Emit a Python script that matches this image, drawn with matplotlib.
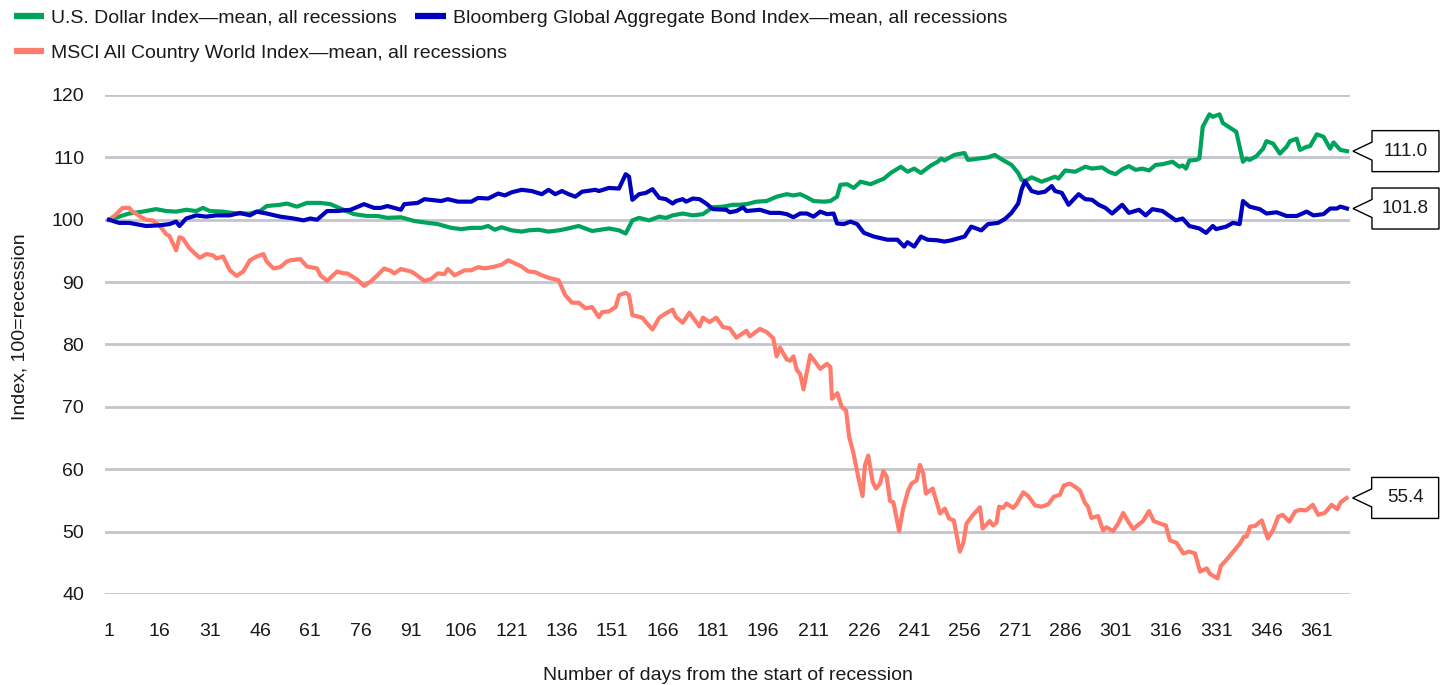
import matplotlib
matplotlib.use("Agg")
import matplotlib.pyplot as plt
from matplotlib.lines import Line2D
from matplotlib.patches import Polygon
from matplotlib.transforms import IdentityTransform

plt.rcParams['font.family'] = ['Liberation Sans', 'DejaVu Sans']

# U.S. Dollar Index - mean, all recessions
usd_days = [1, 4, 7, 11, 15, 18, 21, 24, 27, 29, 31, 35, 39, 43, 46, 48, 52, 54, 57, 60,
            64, 67, 70, 74, 78, 81, 84, 88, 92, 96, 99, 103, 106, 109, 112, 114, 116, 118, 121, 124,
            126, 129, 132, 135, 137, 141, 145, 150, 153, 155, 157, 159, 162, 165, 167, 169, 172, 175, 178, 181,
            184, 187, 189, 191, 194, 197, 200, 203, 205, 207, 209, 211, 214, 216, 218, 219, 221, 223, 225, 228,
            232, 234, 237, 239, 241, 243, 246, 248, 249, 250, 253, 256, 257, 259, 260, 263, 265, 267, 270, 272,
            273, 274, 276, 279, 281, 283, 284, 286, 289, 292, 294, 297, 299, 301, 303, 305, 307, 309, 311, 313,
            315, 318, 320, 321, 322, 323, 325, 326, 327, 329, 330, 332, 333, 335, 337, 339, 340, 341, 343, 345,
            346, 348, 350, 352, 353, 355, 356, 358, 359, 361, 363, 365, 366, 368, 370]
usd_vals = [100.0, 100.5, 101.0, 101.3, 101.7, 101.4, 101.3, 101.6, 101.4, 101.9, 101.4, 101.3, 101.0, 101.0, 101.4, 102.2, 102.4, 102.6, 102.1, 102.7,
            102.7, 102.5, 101.8, 100.9, 100.6, 100.6, 100.3, 100.4, 99.8, 99.5, 99.3, 98.7, 98.5, 98.7, 98.7, 99.0, 98.4, 98.8, 98.3, 98.1,
            98.3, 98.4, 98.1, 98.3, 98.5, 99.0, 98.2, 98.6, 98.3, 97.8, 99.9, 100.3, 99.9, 100.5, 100.3, 100.7, 101.0, 100.7, 100.9, 102.0,
            102.1, 102.4, 102.4, 102.5, 102.9, 103.0, 103.7, 104.1, 103.9, 104.1, 103.6, 103.0, 102.9, 103.0, 103.7, 105.6, 105.7, 105.1, 106.1, 105.7,
            106.6, 107.5, 108.5, 107.7, 108.2, 107.5, 108.7, 109.3, 109.8, 109.5, 110.4, 110.7, 109.6, 109.7, 109.8, 110.0, 110.4, 109.7, 108.8, 107.5,
            106.4, 106.2, 106.8, 106.1, 106.5, 106.9, 106.6, 107.9, 107.7, 108.5, 108.2, 108.4, 107.7, 107.3, 108.1, 108.6, 108.0, 108.2, 107.9, 108.8,
            108.9, 109.3, 108.5, 108.7, 108.2, 109.5, 109.6, 109.8, 114.9, 116.9, 116.5, 116.9, 115.5, 114.8, 114.1, 109.3, 109.8, 109.6, 110.2, 111.4,
            112.6, 112.2, 110.6, 111.7, 112.6, 113.0, 111.2, 111.7, 111.8, 113.7, 113.3, 111.4, 112.4, 111.2, 111.0]

# Bloomberg Global Aggregate Bond Index - mean, all recessions
bond_days = [1, 4, 7, 12, 16, 19, 21, 22, 24, 27, 30, 33, 37, 40, 43, 45, 48, 52, 56, 59,
             61, 63, 66, 69, 73, 77, 80, 82, 84, 88, 89, 93, 95, 100, 102, 105, 109, 111, 114, 117,
             119, 121, 124, 127, 130, 132, 134, 136, 138, 140, 142, 146, 147, 150, 153, 155, 156, 157, 159, 161,
             163, 165, 167, 169, 170, 172, 173, 175, 177, 179, 181, 185, 186, 188, 190, 191, 195, 198, 201, 203,
             205, 207, 209, 211, 213, 215, 217, 218, 220, 222, 224, 226, 229, 233, 236, 238, 239, 241, 243, 245,
             248, 250, 252, 254, 256, 258, 261, 263, 266, 268, 270, 272, 273, 274, 276, 278, 280, 282, 283, 285,
             287, 290, 292, 294, 296, 298, 300, 303, 305, 308, 310, 312, 315, 319, 321, 323, 326, 328, 330, 331,
             334, 336, 338, 339, 341, 344, 346, 349, 352, 355, 358, 360, 363, 365, 367, 368, 370]
bond_vals = [100.0, 99.5, 99.5, 99.0, 99.1, 99.3, 99.7, 99.0, 100.2, 100.7, 100.5, 100.7, 100.7, 101.1, 100.7, 101.3, 101.0, 100.5, 100.2, 99.9,
             100.2, 100.0, 101.4, 101.4, 101.6, 102.5, 101.9, 101.9, 102.2, 101.6, 102.5, 102.7, 103.3, 103.0, 103.3, 102.9, 102.9, 103.5, 103.4, 104.2,
             103.9, 104.4, 104.8, 104.6, 104.1, 104.8, 104.1, 104.6, 104.1, 103.7, 104.5, 104.8, 104.6, 105.1, 105.0, 107.3, 106.9, 103.2, 104.1, 104.3,
             104.9, 103.5, 103.3, 102.6, 103.0, 103.3, 102.9, 103.4, 103.3, 102.6, 101.7, 101.6, 101.2, 101.4, 102.0, 101.4, 101.6, 101.1, 101.1, 100.9,
             100.4, 101.0, 101.0, 100.5, 101.3, 100.9, 101.0, 99.4, 99.3, 99.7, 99.3, 97.9, 97.3, 96.8, 96.8, 95.7, 96.4, 95.7, 97.3, 96.8,
             96.7, 96.5, 96.7, 97.0, 97.3, 98.9, 98.3, 99.3, 99.5, 100.1, 101.1, 102.6, 104.8, 106.2, 104.6, 104.3, 104.5, 105.4, 104.6, 104.3,
             102.4, 104.1, 103.3, 103.2, 102.4, 101.9, 101.0, 102.4, 101.1, 101.6, 100.7, 101.7, 101.4, 99.9, 100.2, 99.0, 98.6, 97.9, 99.0, 98.5,
             98.9, 99.5, 99.3, 103.0, 102.1, 101.7, 101.0, 101.2, 100.6, 100.6, 101.3, 100.7, 100.9, 101.8, 101.8, 102.1, 101.8]

# MSCI All Country World Index - mean, all recessions
msci_days = [1, 3, 5, 7, 8, 9, 10, 12, 14, 16, 18, 19, 21, 22, 23, 25, 28, 30, 32, 33,
             35, 37, 39, 41, 43, 45, 47, 48, 50, 52, 54, 55, 58, 60, 63, 64, 66, 69, 71, 72,
             75, 77, 79, 81, 83, 85, 86, 88, 91, 92, 95, 97, 99, 101, 102, 104, 107, 109, 111, 113,
             116, 118, 120, 122, 124, 126, 128, 130, 132, 135, 137, 139, 141, 143, 145, 147, 148, 150, 152, 153,
             155, 156, 157, 160, 161, 163, 165, 167, 169, 170, 172, 174, 177, 178, 180, 182, 184, 186, 188, 191,
             192, 195, 197, 199, 200, 201, 203, 204, 205, 206, 207, 208, 210, 213, 215, 216, 216.5, 218.1, 219.4, 220.7,
             221.6, 222.8, 224.3, 225.6, 226.3, 227.3, 228.6, 229.6, 230.8, 231.8, 232.8, 233.8, 234.8, 236.5, 237.7, 239.2, 240.2, 241.7, 242.7, 243.7,
             244.5, 246.5, 248.7, 250.1, 251.4, 252.8, 254.6, 255.6, 256.6, 258.4, 260.6, 261.4, 263.5, 264.5, 265.5, 266.3, 267.5, 268.5, 270.5, 271.5,
             273.5, 275.0, 277.0, 279.0, 281.0, 282.6, 284.4, 285.6, 287.4, 288.9, 290.4, 291.9, 292.8, 293.8, 295.8, 297.3, 298.3, 300.3, 301.8, 303.3,
             304.8, 306.3, 307.8, 309.2, 311.0, 312.4, 314.2, 316.0, 317.2, 319.2, 321.2, 323.0, 324.7, 326.2, 328.2, 329.2, 331.4, 332.4, 334.1, 336.1,
             338.1, 339.3, 340.1, 341.1, 342.6, 344.6, 346.4, 348.0, 349.5, 350.8, 352.8, 354.5, 356.0, 357.8, 359.8, 361.4, 363.4, 365.4, 367.1, 368.1, 369.9]
msci_vals = [100.0, 100.8, 101.9, 101.9, 101.3, 101.0, 100.6, 100.0, 99.9, 99.1, 97.7, 97.4, 95.1, 97.2, 97.0, 95.4, 93.9, 94.5, 94.3, 93.8,
             94.1, 91.9, 91.0, 91.7, 93.5, 94.1, 94.5, 93.3, 92.2, 92.4, 93.3, 93.5, 93.7, 92.5, 92.2, 91.1, 90.2, 91.7, 91.4, 91.4,
             90.4, 89.4, 90.1, 91.1, 92.2, 91.8, 91.4, 92.1, 91.7, 91.4, 90.2, 90.5, 91.4, 91.3, 92.1, 91.1, 91.9, 91.9, 92.4, 92.2,
             92.5, 92.8, 93.5, 93.0, 92.5, 91.7, 91.6, 91.1, 90.7, 90.3, 87.9, 86.7, 86.7, 85.8, 86.0, 84.4, 85.2, 85.3, 86.0, 87.9,
             88.3, 87.9, 84.7, 84.3, 83.6, 82.4, 84.3, 85.0, 85.6, 84.4, 83.5, 85.1, 82.9, 84.3, 83.6, 84.3, 82.8, 82.6, 81.1, 82.2,
             81.3, 82.5, 82.0, 81.0, 78.1, 79.5, 77.6, 77.4, 78.1, 75.9, 75.3, 72.8, 78.3, 76.1, 76.9, 76.4, 71.3, 72.2, 70.0, 69.4,
             65.2, 62.8, 58.8, 55.7, 60.6, 62.2, 58.0, 56.9, 57.7, 59.7, 58.8, 54.9, 54.7, 50.1, 53.7, 56.6, 57.7, 58.2, 60.7, 59.3,
             56.1, 56.9, 52.9, 53.7, 52.1, 51.8, 46.8, 48.1, 51.3, 52.6, 53.9, 50.5, 51.7, 51.0, 51.4, 54.0, 53.8, 54.5, 53.8, 54.4,
             56.3, 55.7, 54.2, 54.0, 54.4, 55.6, 55.9, 57.4, 57.7, 57.2, 56.6, 54.6, 54.0, 52.2, 52.5, 50.2, 50.7, 50.1, 51.3, 53.0,
             51.6, 50.4, 51.1, 51.7, 53.3, 51.7, 51.3, 51.0, 48.6, 48.2, 46.5, 46.8, 46.5, 43.6, 44.1, 43.2, 42.5, 44.5, 45.5, 46.8,
             48.1, 49.2, 49.2, 50.8, 50.9, 51.8, 48.9, 50.3, 52.4, 52.7, 51.6, 53.2, 53.5, 53.4, 54.3, 52.7, 53.0, 54.3, 53.6, 54.7, 55.4]

x_ticks = list(range(1, 362, 15))
y_ticks = list(range(40, 121, 10))

green = '#00A35C'
blue = '#0000BE'
salmon = '#FF7B6B'

W, H = 1451, 685
fig = plt.figure(figsize=(W / 100, H / 100), dpi=100)
ax = fig.add_axes([105 / W, 91 / H, 1245 / W, 499 / H])

ax.plot(usd_days, usd_vals, color=green, lw=3, zorder=3)
ax.plot(bond_days, bond_vals, color=blue, lw=3, zorder=4)
ax.plot(msci_days, msci_vals, color=salmon, lw=3, zorder=3)

ax.set_xlim(-0.2, 370.9)
ax.set_ylim(40, 120)
ax.set_xticks(x_ticks)
ax.set_yticks(y_ticks)
ax.yaxis.grid(True, color='#c4c4cc', lw=2)
ax.set_axisbelow(True)
for s in ax.spines.values():
    s.set_visible(False)
ax.tick_params(axis='both', length=0, labelsize=14, colors='#1a1a1a')
ax.tick_params(axis='x', pad=21)
ax.tick_params(axis='y', pad=15)

fig.text(728 / W, 1 - 676 / H, 'Number of days from the start of recession',
         ha='center', va='center', fontsize=14, color='#1a1a1a')
fig.text(20 / W, 1 - 327 / H, 'Index, 100=recession', rotation=90,
         ha='center', va='center', fontsize=14, color='#1a1a1a')

# legend: first row has two entries, second row one
h_usd = Line2D([], [], color=green, lw=4.5, solid_capstyle='butt')
h_bond = Line2D([], [], color=blue, lw=4.5, solid_capstyle='butt')
h_msci = Line2D([], [], color=salmon, lw=4.5, solid_capstyle='butt')
leg_kw = dict(loc='upper left', frameon=False, fontsize=14, handlelength=1.55,
              handletextpad=0.36, borderpad=0, borderaxespad=0, labelcolor='#1a1a1a')
leg1 = fig.legend([h_usd, h_bond],
                  ['U.S. Dollar Index\u2014mean, all recessions',
                   'Bloomberg Global Aggregate Bond Index\u2014mean, all recessions'],
                  bbox_to_anchor=(14 / W, 1 - 9 / H), ncol=2, columnspacing=0.95, **leg_kw)
leg2 = fig.legend([h_msci], ['MSCI All Country World Index\u2014mean, all recessions'],
                  bbox_to_anchor=(14 / W, 1 - 44 / H), **leg_kw)

# callout boxes with last values
for days, vals in [(usd_days, usd_vals), (bond_days, bond_vals), (msci_days, msci_vals)]:
    tx, ty = ax.transData.transform((days[-1], vals[-1]))
    tip = tx + 6
    bx0 = tip + 19
    bx1 = bx0 + 67
    hh = 20.5
    verts = [(bx0, ty + 9), (bx0, ty + hh), (bx1, ty + hh), (bx1, ty - hh),
             (bx0, ty - hh), (bx0, ty - 9), (tip, ty)]
    poly = Polygon(verts, closed=True, facecolor='white', edgecolor='black', lw=1,
                   transform=IdentityTransform(), zorder=10)
    fig.add_artist(poly)
    fig.text((bx0 + bx1) / 2, ty, f'{vals[-1]:.1f}', transform=IdentityTransform(),
             ha='center', va='center', fontsize=13.5, color='#1a1a1a', zorder=11)

fig.savefig('out.png', dpi=100)
